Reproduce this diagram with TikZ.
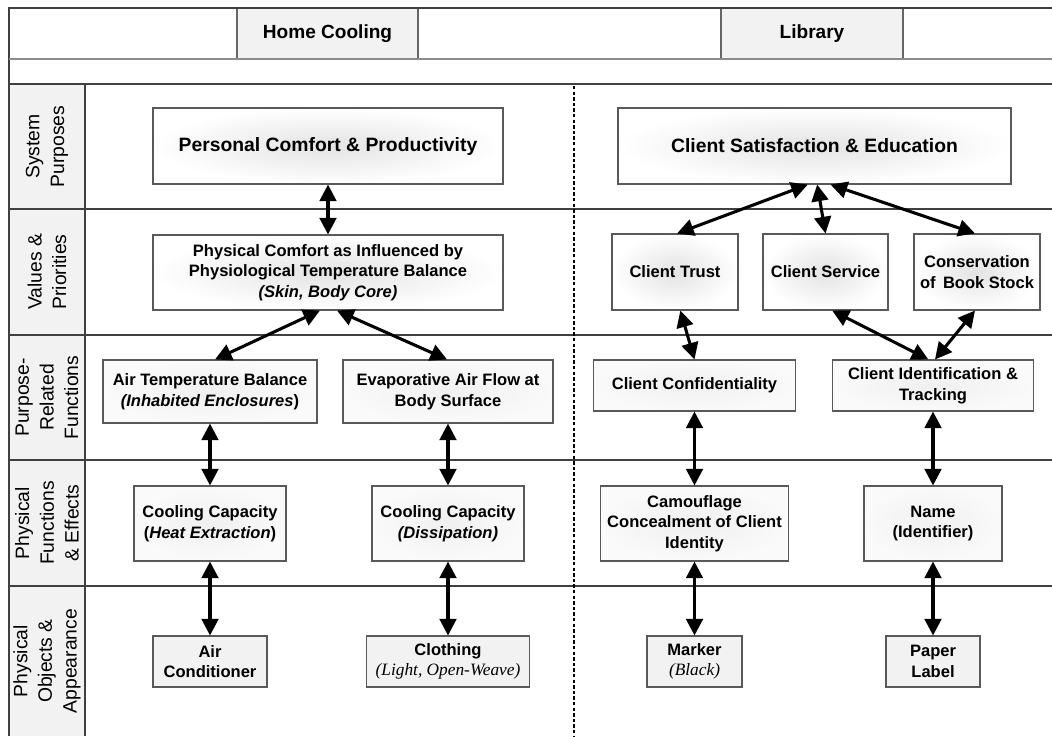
\documentclass[tikz,border=0pt]{standalone}
\usepackage{fontspec}
\setmainfont{Liberation Sans}
\newfontfamily\serifit{Liberation Serif}
\usetikzlibrary{arrows.meta}
\begin{document}
\begin{tikzpicture}[x=0.75pt,y=-0.75pt,
  rule/.style={draw=black!75, line width=1.1pt},
  thinrule/.style={draw=black!45, line width=0.9pt},
  rowlabel/.style={rotate=90, align=center, font=\fontsize{14.5}{18.5}\selectfont},
  headbox/.style={draw=black!60, line width=0.8pt, fill=gray!10, inner sep=0pt,
    font=\bfseries\fontsize{14.3}{17}\selectfont},
  box/.style={draw=black!65, line width=0.8pt, inner sep=0pt, align=center,
    font=\bfseries\fontsize{12.4}{15.5}\selectfont},
  bigbox/.style={box, font=\bfseries\fontsize{14.5}{17}\selectfont},
  glow/.style={inner color=gray!22, outer color=white},
  soft/.style={inner color=gray!12, outer color=gray!4},
  flat/.style={fill=gray!10},
  link/.style={line width=2.3pt,
    {Triangle[length=12.5pt,width=12.5pt]}-{Triangle[length=12.5pt,width=12.5pt]}}
]
\useasboundingbox (0,0) rectangle (1052,736);

% label column
\fill[gray!10] (9,84) rectangle (85,736);

% header row and frame
\node[headbox, minimum width=135.75pt, minimum height=38.25pt] (hdrcool) at (327.5,33.5) {Home Cooling};
\node[headbox, minimum width=136.5pt, minimum height=38.25pt] (hdrlib) at (812,33.5) {Library};
\draw[rule] (9,736) -- (9,8) -- (1052,8);
\draw[thinrule] (9,59) -- (1052,59);
\draw[draw=black!75, line width=1.6pt] (9,84) -- (1052,84);
\draw[rule] (85,84) -- (85,736);
\foreach \yy in {209,335,460,586} \draw[rule] (9,\yy) -- (1052,\yy);

% separator between the two domains
\draw[line width=1.8pt, dash pattern=on 2.6pt off 1.6pt] (574,86) -- (574,736);

% abstraction level labels
\node[rowlabel] (lvl1) at (47,146.5) {System\\Purposes};
\node[rowlabel] (lvl2) at (47,272) {Values \&\\Priorities};
\node[rowlabel] (lvl3) at (47,397.5) {Purpose-\\Related\\Functions};
\node[rowlabel] (lvl4) at (47,523) {Physical\\Functions\\\& Effects};
\node[rowlabel] (lvl5) at (47,661) {Physical\\Objects \&\\Appearance};

% ---- Home cooling
\node[bigbox, glow, minimum width=262.5pt, minimum height=57pt] (pcp) at (328,146) {Personal Comfort \& Productivity};
\node[box, glow, minimum width=262.5pt, minimum height=56.25pt] (phc) at (328,272.5)
  {Physical Comfort as Influenced by\\Physiological Temperature Balance\\\textit{(Skin, Body Core)}};
\node[box, soft, minimum width=160.5pt, minimum height=47.25pt] (atb) at (210,391.5)
  {Air Temperature Balance\\\textit{(Inhabited Enclosures})};
\node[box, soft, minimum width=157.5pt, minimum height=47.25pt] (eaf) at (448,391.5)
  {Evaporative Air Flow at\\Body Surface};
\node[box, soft, minimum width=114pt, minimum height=56.25pt] (cch) at (210,523.5)
  {Cooling Capacity\\(\textit{Heat Extraction})};
\node[box, soft, minimum width=114pt, minimum height=56.25pt] (ccd) at (448,523.5)
  {Cooling Capacity\\\textit{(Dissipation)}};
\node[box, flat, minimum width=85.5pt, minimum height=38.25pt] (acn) at (210,661.5)
  {Air\\Conditioner};
\node[box, flat, minimum width=122.25pt, minimum height=38.25pt] (clo) at (448,661.5)
  {Clothing\\{\serifit\mdseries\itshape\fontsize{13}{15.5}\selectfont(Light, Open-Weave)}};

% ---- Library
\node[bigbox, glow, minimum width=294.75pt, minimum height=57pt] (cse) at (814.5,146) {Client Satisfaction \& Education};
\node[box, glow, minimum width=94.5pt, minimum height=57pt] (ctr) at (675,272) {Client Trust};
\node[box, glow, minimum width=93.75pt, minimum height=57pt] (csv) at (825.5,272) {Client Service};
\node[box, glow, minimum width=94.5pt, minimum height=57pt] (cbs) at (977,272) {Conservation\\of\, Book Stock};
\node[box, soft, minimum width=151.5pt, minimum height=38.25pt] (ccf) at (694.5,385.5) {Client Confidentiality};
\node[box, soft, minimum width=150.75pt, minimum height=38.25pt] (cit) at (933,385.5) {Client Identification \&\\Tracking};
\node[box, soft, minimum width=141pt, minimum height=56.25pt] (cam) at (694.5,523.5)
  {Camouflage\\Concealment of Client\\Identity};
\node[box, soft, minimum width=103.5pt, minimum height=56.25pt] (nam) at (933,523.5)
  {Name\\(Identifier)};
\node[box, flat, minimum width=71.25pt, minimum height=38.25pt] (mrk) at (694.5,661.5)
  {Marker\\{\serifit\mdseries\itshape\fontsize{13}{15.5}\selectfont(Black)}};
\node[box, flat, minimum width=70.5pt, minimum height=38.25pt] (ppl) at (933,661.5)
  {Paper\\Label};

% ---- links, home cooling
\draw[link] (pcp.south) -- (phc.north);
\draw[link] ([xshift=-6pt]phc.south) -- ([xshift=3.75pt]atb.north);
\draw[link] ([xshift=6.75pt]phc.south) -- ([xshift=-0.75pt]eaf.north);
\draw[link] (atb.south) -- (cch.north);
\draw[link] (eaf.south) -- (ccd.north);
\draw[link] (cch.south) -- (acn.north);
\draw[link] (ccd.south) -- (clo.north);

% ---- links, library
\draw[link] ([xshift=-5pt]cse.south) -- ([xshift=1.5pt]ctr.north);
\draw[link] ([xshift=2pt]cse.south) -- (csv.north);
\draw[link] ([xshift=12pt]cse.south) -- ([xshift=-1.5pt]cbs.north);
\draw[link] ([xshift=4pt]ctr.south) -- (ccf.north);
\draw[link] ([xshift=5pt]csv.south) -- ([xshift=-3.5pt]cit.north);
\draw[link] ([xshift=-1.5pt]cbs.south) -- ([xshift=1.5pt]cit.north);
\draw[link] (ccf.south) -- (cam.north);
\draw[link] (cit.south) -- (nam.north);
\draw[link] (cam.south) -- (mrk.north);
\draw[link] (nam.south) -- (ppl.north);
\end{tikzpicture}
\end{document}
